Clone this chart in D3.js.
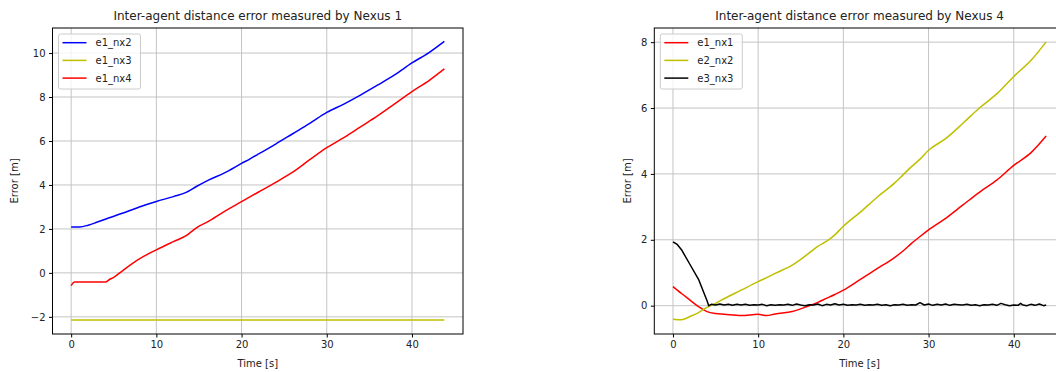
<!DOCTYPE html>
<html>
<head>
    <title>Inter-agent distance error</title>
    <script src="https://cdn.jsdelivr.net/npm/d3@7"></script>
</head>
<body style="margin: 0; background: #fff">
<svg width="1056" height="372"></svg>

<script>
    // ---- data ----
    // Nexus 1
    const n1Time   = [0, 1, 2, 3, 4, 6, 8, 10, 12, 13.5, 14.7, 16, 18, 20, 21, 22, 24, 26, 28, 30, 32, 34, 36, 38, 40, 42, 43.8];
    const e1_nx2   = [2.09, 2.09, 2.17, 2.3, 2.44, 2.71, 3.0, 3.25, 3.47, 3.66, 3.93, 4.2, 4.55, 4.98, 5.19, 5.41, 5.86, 6.33, 6.8, 7.3, 7.68, 8.1, 8.55, 9.02, 9.55, 10.02, 10.53];
    const n1RedTime = [0, 0.4, 2, 4, 4.5, 5, 5.7, 7, 8.5, 10, 12, 13.5, 14.7, 16, 18, 20, 22, 24, 26, 28, 30, 32, 34, 36, 38, 40, 42, 43.8];
    const e1_nx4   = [-0.58, -0.42, -0.42, -0.42, -0.3, -0.2, 0.0, 0.38, 0.75, 1.05, 1.42, 1.69, 2.05, 2.32, 2.8, 3.24, 3.68, 4.12, 4.58, 5.15, 5.7, 6.15, 6.65, 7.15, 7.7, 8.25, 8.75, 9.28];
    const n1FlatTime = [0, 43.8];
    const e1_nx3   = [-2.14, -2.14];

    // Nexus 4
    const n4Time   = [0, 1, 2, 3, 4, 5, 6, 8, 10, 11, 12, 14, 16, 17, 18, 19, 20, 22, 24, 26, 27, 28, 29, 30, 32, 34, 36, 38, 40, 42, 43.8];
    const e1_nx1   = [0.58, 0.37, 0.17, -0.03, -0.18, -0.24, -0.26, -0.3, -0.26, -0.3, -0.25, -0.18, 0.0, 0.1, 0.22, 0.34, 0.47, 0.8, 1.13, 1.46, 1.66, 1.89, 2.1, 2.3, 2.65, 3.05, 3.45, 3.81, 4.26, 4.64, 5.15];
    const e2_nx2   = [-0.41, -0.43, -0.33, -0.21, -0.05, 0.07, 0.21, 0.47, 0.73, 0.85, 0.98, 1.23, 1.6, 1.8, 1.95, 2.15, 2.41, 2.84, 3.3, 3.72, 3.97, 4.22, 4.45, 4.72, 5.07, 5.53, 6.01, 6.43, 6.96, 7.44, 8.01];
    const n4BlackTime = [0, 0.5, 1, 2, 3, 4, 4.2, 4.5, 5, 5.5, 6, 6.5, 7, 7.5, 8, 8.5, 9, 9.5, 10, 10.5, 11, 11.5, 12, 12.5, 13, 13.5, 14, 14.5, 15, 15.5, 16, 16.5, 17, 17.5, 18, 18.5, 19, 19.5, 20, 20.5, 21, 21.5, 22, 22.5, 23, 23.5, 24, 24.5, 25, 25.5, 26, 26.5, 27, 27.5, 28, 28.5, 29, 29.5, 30, 30.5, 31, 31.5, 32, 32.5, 33, 33.5, 34, 34.5, 35, 35.5, 36, 36.5, 37, 37.5, 38, 38.5, 39, 39.5, 40, 40.5, 40.8, 41, 41.5, 42, 42.5, 43, 43.5, 43.8];
    const e3_nx3   = [1.94, 1.86, 1.7, 1.25, 0.8, 0.15, 0.0, 0.04, 0.02, 0.05, 0.02, 0.04, 0.01, 0.04, 0.02, 0.04, 0.01, 0.03, 0.02, 0.04, 0.0, 0.03, 0.01, 0.03, 0.02, 0.04, 0.01, 0.05, 0.02, 0.0, 0.03, 0.02, 0.05, 0.0, 0.04, 0.02, 0.06, 0.02, 0.04, 0.01, 0.03, 0.02, 0.04, 0.01, 0.03, 0.02, 0.04, 0.01, 0.03, 0.0, 0.03, 0.02, 0.04, 0.01, 0.03, 0.02, 0.09, 0.02, 0.05, 0.01, 0.04, 0.02, 0.05, 0.01, 0.04, 0.03, 0.02, 0.04, 0.01, 0.03, 0.0, 0.03, 0.02, 0.04, 0.01, 0.07, 0.03, 0.0, 0.02, 0.01, 0.07, 0.03, 0.0, 0.04, 0.01, 0.05, 0.0, 0.02];

    const xTicks = [0, 10, 20, 30, 40];
    const yTicksLeft = [-2, 0, 2, 4, 6, 8, 10];
    const yTicksRight = [0, 2, 4, 6, 8];

    const svg = d3.select("svg");
    const font = "DejaVu Sans, sans-serif";

    // Draw one matplotlib-like panel
    function panel(opts) {
        const x = d3.scaleLinear().domain(opts.xDomain).range([opts.left, opts.right]);
        const y = d3.scaleLinear().domain(opts.yDomain).range([opts.bottom, opts.top]);
        const g = svg.append("g");

        // grid
        g.selectAll(".gx").data(xTicks).enter().append("line")
            .attr("x1", d => x(d)).attr("x2", d => x(d))
            .attr("y1", opts.top).attr("y2", opts.bottom)
            .attr("stroke", "#c4c4c4").attr("stroke-width", 1);
        g.selectAll(".gy").data(opts.yTicks).enter().append("line")
            .attr("x1", opts.left).attr("x2", opts.right)
            .attr("y1", d => y(d)).attr("y2", d => y(d))
            .attr("stroke", "#c4c4c4").attr("stroke-width", 1);

        // lines (smooth ones get a monotone curve, the noisy one stays linear)
        opts.series.forEach(s => {
            const line = d3.line().x(d => x(d[0])).y(d => y(d[1]))
                .curve(s.noisy ? d3.curveLinear : d3.curveMonotoneX);
            g.append("path")
                .datum(s.t.map((t, i) => [t, s.v[i]]))
                .attr("d", line)
                .attr("fill", "none")
                .attr("stroke", s.color)
                .attr("stroke-width", 1.5)
                .attr("stroke-linejoin", "round");
        });

        // frame
        g.append("rect")
            .attr("x", opts.left).attr("y", opts.top)
            .attr("width", opts.right - opts.left).attr("height", opts.bottom - opts.top)
            .attr("fill", "none").attr("stroke", "#000").attr("stroke-width", 1);

        // axes
        const xAxis = g.append("g").attr("transform", `translate(0,${opts.bottom})`)
            .call(d3.axisBottom(x).tickValues(xTicks).tickSize(3.5).tickPadding(3.5).tickSizeOuter(0));
        const yAxis = g.append("g").attr("transform", `translate(${opts.left},0)`)
            .call(d3.axisLeft(y).tickValues(opts.yTicks).tickSize(3.5).tickPadding(3.5).tickSizeOuter(0)
                .tickFormat(d => d < 0 ? "\u2212" + Math.abs(d) : d));
        [xAxis, yAxis].forEach(a => {
            a.select(".domain").remove();
            a.selectAll("text").attr("font-family", font).attr("font-size", "10px").attr("fill", "#222");
            a.selectAll("line").attr("stroke", "#000");
        });

        // title and labels
        const cx = (opts.left + opts.right) / 2;
        svg.append("text").attr("x", cx).attr("y", 20)
            .attr("text-anchor", "middle").attr("font-family", font).attr("font-size", "12px")
            .attr("fill", "#222").text(opts.title);
        svg.append("text").attr("x", cx).attr("y", 367)
            .attr("text-anchor", "middle").attr("font-family", font).attr("font-size", "10px")
            .attr("fill", "#222").text("Time [s]");
        svg.append("text")
            .attr("transform", `translate(${opts.ylabelX},${(opts.top + opts.bottom) / 2}) rotate(-90)`)
            .attr("text-anchor", "middle").attr("font-family", font).attr("font-size", "10px")
            .attr("fill", "#222").text("Error [m]");

        // legend
        const lg = svg.append("g").attr("transform", `translate(${opts.left + 6},34)`);
        lg.append("rect").attr("width", opts.legendW).attr("height", 55).attr("rx", 2)
            .attr("fill", "#fff").attr("fill-opacity", 0.8).attr("stroke", "#ccc");
        opts.series.forEach((s, i) => {
            const yy = 8.7 + i * 17.7;
            lg.append("line").attr("x1", 4).attr("x2", 28).attr("y1", yy).attr("y2", yy)
                .attr("stroke", s.color).attr("stroke-width", 1.5);
            lg.append("text").attr("x", 37).attr("y", yy + 3.6)
                .attr("font-family", font).attr("font-size", "10px").attr("fill", "#222").text(s.name);
        });
    }

    panel({
        left: 52.5, right: 463, top: 28, bottom: 334,
        xDomain: [-2.19, 45.99], yDomain: [-2.78, 11.14], yTicks: yTicksLeft,
        ylabelX: 18, legendW: 82,
        title: "Inter-agent distance error measured by Nexus 1",
        series: [
            { name: "e1_nx2", t: n1Time, v: e1_nx2, color: "#0000ff" },
            { name: "e1_nx3", t: n1FlatTime, v: e1_nx3, color: "#bfbf00" },
            { name: "e1_nx4", t: n1RedTime, v: e1_nx4, color: "#ff0000" }
        ]
    });

    panel({
        left: 654.3, right: 1064.8, top: 28, bottom: 334,
        xDomain: [-2.19, 45.99], yDomain: [-0.86, 8.43], yTicks: yTicksRight,
        ylabelX: 631, legendW: 82,
        title: "Inter-agent distance error measured by Nexus 4",
        series: [
            { name: "e1_nx1", t: n4Time, v: e1_nx1, color: "#ff0000" },
            { name: "e2_nx2", t: n4Time, v: e2_nx2, color: "#bfbf00" },
            { name: "e3_nx3", t: n4BlackTime, v: e3_nx3, color: "#000000", noisy: true }
        ]
    });
</script>
</body>
</html>
